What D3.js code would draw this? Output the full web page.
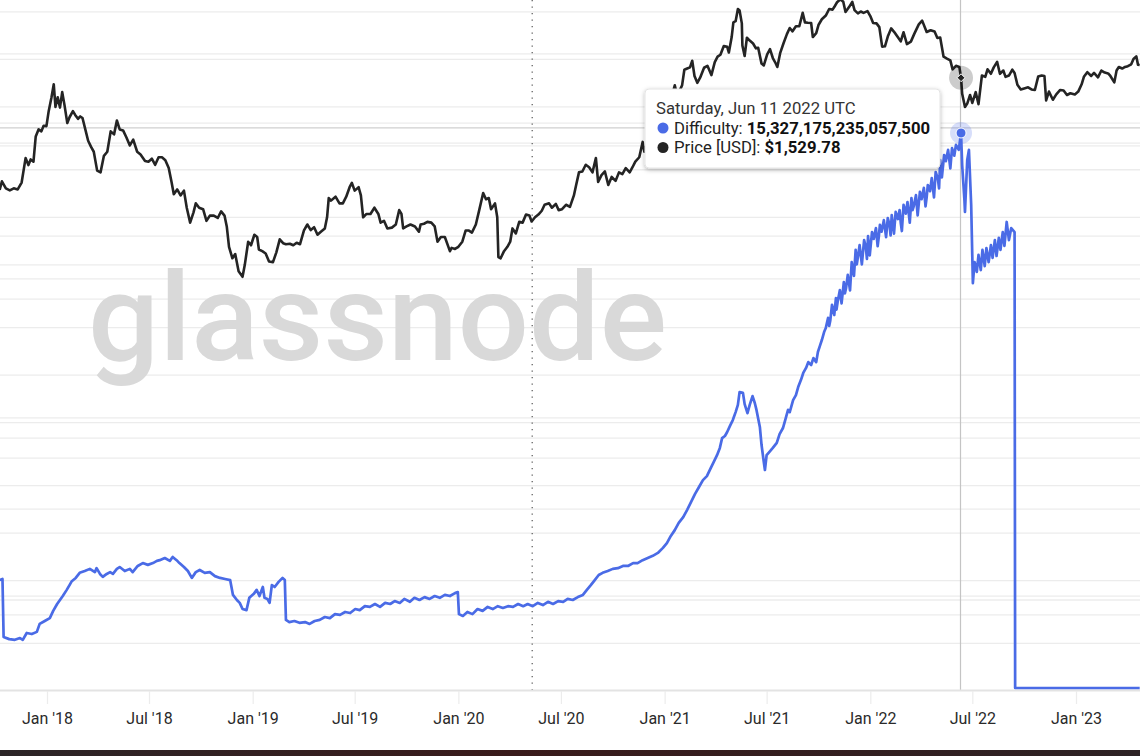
<!DOCTYPE html>
<html><head><meta charset="utf-8">
<script src="https://cdn.jsdelivr.net/npm/d3@7"></script>
<style>
html,body{margin:0;padding:0;background:#fff;overflow:hidden;}
svg{display:block;font-family:Roboto,"Noto Sans",sans-serif;}
</style></head><body>
<svg id="c" width="1140" height="756"></svg>
<script>
// ---------- DATA ----------
const xTickDates = ["2018-01-01","2018-07-01","2019-01-01","2019-07-01","2020-01-01","2020-07-01","2021-01-01","2021-07-01","2022-01-01","2022-07-01","2023-01-01"];
const xTickLabels = ["Jan '18","Jul '18","Jan '19","Jul '19","Jan '20","Jul '20","Jan '21","Jul '21","Jan '22","Jul '22","Jan '23"];
const priceGridTicks = [4000,2000,1000,400,200,100,40,20,10,4,2,1,0.4];
const difficultyGridTicks = [17.51,15.60,15.05,14.97,12.48,11.30,10.74,7.46,6.90,6.35,4.94,2.54,2.43,2.02]; // x1e15

const priceDates = ["2017-10-09","2017-10-13","2017-10-20","2017-10-27","2017-11-03","2017-11-10","2017-11-17","2017-11-24","2017-11-29","2017-12-03","2017-12-08","2017-12-12","2017-12-17","2017-12-22","2017-12-26","2017-12-31",
"2018-01-04","2018-01-09","2018-01-13","2018-01-16","2018-01-20","2018-01-24","2018-01-28","2018-02-01","2018-02-06","2018-02-10","2018-02-16","2018-02-20","2018-02-25","2018-03-01","2018-03-05","2018-03-10","2018-03-15","2018-03-20","2018-03-25","2018-03-31","2018-04-06","2018-04-12","2018-04-18","2018-04-24","2018-04-30","2018-05-05","2018-05-10","2018-05-16","2018-05-22","2018-05-28","2018-06-03","2018-06-10","2018-06-16","2018-06-24","2018-06-30","2018-07-06","2018-07-12","2018-07-18","2018-07-24","2018-07-30","2018-08-05","2018-08-10","2018-08-14","2018-08-20","2018-08-26","2018-09-01","2018-09-06","2018-09-12","2018-09-18","2018-09-22","2018-09-28","2018-10-05","2018-10-11","2018-10-17","2018-10-24","2018-10-31","2018-11-06","2018-11-12","2018-11-16","2018-11-20","2018-11-26","2018-12-01","2018-12-07","2018-12-14","2018-12-18","2018-12-24","2018-12-29",
"2019-01-04","2019-01-09","2019-01-12","2019-01-18","2019-01-24","2019-01-30","2019-02-06","2019-02-12","2019-02-18","2019-02-24","2019-03-01","2019-03-08","2019-03-14","2019-03-20","2019-03-26","2019-04-02","2019-04-08","2019-04-14","2019-04-20","2019-04-26","2019-05-02","2019-05-09","2019-05-13","2019-05-16","2019-05-20","2019-05-28","2019-06-04","2019-06-10","2019-06-16","2019-06-22","2019-06-26","2019-07-01","2019-07-08","2019-07-12","2019-07-16","2019-07-22","2019-07-29","2019-08-05","2019-08-12","2019-08-16","2019-08-22","2019-08-28","2019-09-05","2019-09-12","2019-09-18","2019-09-22","2019-09-25","2019-10-01","2019-10-08","2019-10-16","2019-10-23","2019-10-26","2019-11-01","2019-11-07","2019-11-14","2019-11-20","2019-11-25","2019-12-01","2019-12-08","2019-12-17","2019-12-20","2019-12-26",
"2020-01-01","2020-01-08","2020-01-14","2020-01-19","2020-01-25","2020-02-01","2020-02-07","2020-02-14","2020-02-19","2020-02-24","2020-02-28","2020-03-06","2020-03-10","2020-03-12","2020-03-16","2020-03-22","2020-03-28","2020-04-02","2020-04-06","2020-04-12","2020-04-18","2020-04-24","2020-04-30","2020-05-06","2020-05-10","2020-05-16","2020-05-22","2020-05-28","2020-06-02","2020-06-10","2020-06-15","2020-06-22","2020-06-27","2020-07-03","2020-07-10","2020-07-17","2020-07-24","2020-07-28","2020-08-02","2020-08-08","2020-08-14","2020-08-20","2020-08-26","2020-09-01","2020-09-05","2020-09-11","2020-09-17","2020-09-23","2020-09-29","2020-10-06","2020-10-12","2020-10-18","2020-10-24","2020-10-31","2020-11-05","2020-11-10","2020-11-17","2020-11-23","2020-11-26","2020-12-01","2020-12-08","2020-12-14","2020-12-17","2020-12-22","2020-12-27",
"2021-01-01","2021-01-04","2021-01-10","2021-01-13","2021-01-19","2021-01-22","2021-01-27","2021-02-01","2021-02-05","2021-02-10","2021-02-15","2021-02-19","2021-02-23","2021-02-28","2021-03-05","2021-03-12","2021-03-18","2021-03-25","2021-03-31","2021-04-05","2021-04-10","2021-04-16","2021-04-22","2021-04-25","2021-04-30","2021-05-03","2021-05-07","2021-05-11","2021-05-14","2021-05-18","2021-05-19","2021-05-23","2021-05-27","2021-06-01","2021-06-07","2021-06-12","2021-06-16","2021-06-22","2021-06-26","2021-07-02","2021-07-07","2021-07-12","2021-07-17","2021-07-20","2021-07-25","2021-07-31","2021-08-06","2021-08-11","2021-08-16","2021-08-22","2021-08-28","2021-09-03","2021-09-07","2021-09-12","2021-09-18","2021-09-21","2021-09-27","2021-10-01","2021-10-07","2021-10-14","2021-10-20","2021-10-26","2021-10-29","2021-11-03","2021-11-09","2021-11-14","2021-11-18","2021-11-24","2021-11-30","2021-12-04","2021-12-10","2021-12-15","2021-12-20","2021-12-27",
"2022-01-01","2022-01-06","2022-01-12","2022-01-17","2022-01-22","2022-01-27","2022-02-01","2022-02-07","2022-02-14","2022-02-19","2022-02-24","2022-03-01","2022-03-07","2022-03-14","2022-03-20","2022-03-28","2022-04-03","2022-04-11","2022-04-18","2022-04-25","2022-04-30","2022-05-05","2022-05-11","2022-05-17","2022-05-23","2022-05-27","2022-06-02","2022-06-08","2022-06-11","2022-06-13","2022-06-18","2022-06-22","2022-06-27","2022-07-01","2022-07-07","2022-07-12","2022-07-18","2022-07-24","2022-07-28","2022-08-03","2022-08-08","2022-08-14","2022-08-19","2022-08-25","2022-08-29","2022-09-04","2022-09-10","2022-09-14","2022-09-19","2022-09-25","2022-10-01","2022-10-08","2022-10-14","2022-10-20","2022-10-26","2022-11-01","2022-11-06","2022-11-09","2022-11-14","2022-11-21","2022-11-27","2022-12-04","2022-12-10","2022-12-16","2022-12-22","2022-12-30",
"2023-01-05","2023-01-11","2023-01-15","2023-01-21","2023-01-28","2023-02-02","2023-02-09","2023-02-15","2023-02-21","2023-02-27","2023-03-03","2023-03-10","2023-03-14","2023-03-18","2023-03-24","2023-03-29","2023-04-03","2023-04-09","2023-04-13","2023-04-18","2023-04-21","2023-04-24"];
const priceValues = [298,338,305,296,305,300,332,474,428,465,450,650,720,700,760,756,
940,1150,1390,1000,1150,990,1240,1030,790,860,940,890,840,870,850,720,610,560,520,395,385,490,520,700,670,820,720,710,640,570,620,520,500,455,450,470,430,480,480,460,410,335,280,300,275,295,230,185,215,245,230,225,190,205,205,198,218,205,175,130,110,117,91,84,100,140,133,
155,150,125,122,118,105,104,120,145,137,135,136,133,138,135,165,180,166,173,155,162,170,200,265,255,270,245,245,270,310,330,295,310,275,200,210,210,230,210,185,190,170,172,180,222,210,170,175,180,175,162,180,182,187,185,175,140,150,150,122,128,126,
130,140,165,165,160,180,222,285,260,265,225,245,200,112,110,122,130,140,170,158,187,185,208,205,188,200,208,220,240,245,230,243,222,225,240,233,275,320,385,390,430,415,385,475,335,370,390,320,360,340,385,375,410,385,415,450,480,600,520,590,570,590,640,610,690,
730,1040,1190,1130,1370,1230,1250,1370,1720,1750,1780,1960,1570,1420,1530,1770,1820,1590,1920,2080,2140,2430,2400,2210,2770,3430,3490,4170,4080,3380,2450,2100,2740,2630,2520,2350,2370,1880,1830,2150,2320,2040,1890,1790,2190,2530,2890,3160,3010,3240,3240,3940,3430,3410,3400,2770,2930,3300,3590,3790,4170,4130,4290,4600,4810,4630,3990,4270,4630,4100,3910,4020,3940,4040,
3760,3400,3380,3200,2410,2420,2790,3140,2930,2760,2600,2970,2500,2590,2900,3330,3520,2980,3060,3000,2730,2750,2080,2020,1970,1730,1820,1790,1529.78,1210,1000,1050,1190,1060,1240,1040,1580,1550,1730,1620,1780,1930,1620,1700,1550,1580,1720,1640,1380,1290,1310,1330,1290,1280,1560,1580,1570,1100,1250,1110,1200,1280,1270,1190,1220,1200,
1250,1390,1550,1660,1570,1640,1540,1700,1650,1630,1570,1430,1700,1790,1750,1790,1810,1860,2010,2090,1850,1840];

const difficultyDates = ["2017-10-09","2017-10-14","2017-10-16","2017-10-26","2017-11-05","2017-11-14","2017-11-19","2017-11-26","2017-12-05","2017-12-14","2017-12-19","2017-12-28",
"2018-01-06","2018-01-12","2018-01-19","2018-01-24","2018-01-29","2018-02-05","2018-02-11","2018-02-14","2018-02-21","2018-02-28","2018-03-09","2018-03-18","2018-03-27","2018-03-30","2018-04-05","2018-04-10","2018-04-17","2018-04-23","2018-04-28","2018-05-05","2018-05-10","2018-05-19","2018-05-28","2018-06-02","2018-06-11","2018-06-20","2018-06-29","2018-07-08","2018-07-15","2018-07-20","2018-07-29","2018-08-07","2018-08-12","2018-08-19","2018-08-24","2018-09-01","2018-09-08","2018-09-15","2018-09-22","2018-09-29","2018-10-08","2018-10-17","2018-10-26","2018-11-04","2018-11-13","2018-11-22","2018-11-27","2018-12-04","2018-12-09","2018-12-14","2018-12-21","2018-12-26",
"2019-01-03","2019-01-08","2019-01-13","2019-01-19","2019-01-22","2019-01-27","2019-01-31","2019-02-04","2019-02-09","2019-02-16","2019-02-23","2019-02-27","2019-03-01","2019-03-07","2019-03-16","2019-03-25","2019-04-04","2019-04-12","2019-04-21","2019-04-30","2019-05-09","2019-05-18","2019-05-27","2019-06-05","2019-06-14","2019-06-23","2019-07-02","2019-07-10","2019-07-19","2019-07-28","2019-08-06","2019-08-15","2019-08-24","2019-09-02","2019-09-10","2019-09-19","2019-09-27","2019-10-07","2019-10-15","2019-10-24","2019-11-02","2019-11-11","2019-11-20","2019-11-29","2019-12-08","2019-12-17","2019-12-26","2019-12-31",
"2020-01-02","2020-01-09","2020-01-17","2020-01-26","2020-02-04","2020-02-13","2020-02-22","2020-03-02","2020-03-11","2020-03-20","2020-03-29","2020-04-07","2020-04-16","2020-04-25","2020-05-03","2020-05-12","2020-05-21","2020-05-30","2020-06-08","2020-06-17","2020-06-26","2020-07-05","2020-07-13","2020-07-22","2020-07-31","2020-08-09","2020-08-16","2020-08-23","2020-08-30","2020-09-06","2020-09-13","2020-09-22","2020-10-01","2020-10-10","2020-10-19","2020-10-28","2020-11-06","2020-11-14","2020-11-23","2020-12-02","2020-12-11","2020-12-20","2020-12-29",
"2021-01-05","2021-01-12","2021-01-19","2021-01-26","2021-02-03","2021-02-10","2021-02-17","2021-02-24","2021-03-03","2021-03-10","2021-03-17","2021-03-24","2021-03-29","2021-04-04","2021-04-09","2021-04-13","2021-04-18","2021-04-22","2021-04-27","2021-05-02","2021-05-07","2021-05-11","2021-05-14","2021-05-20","2021-05-23","2021-05-28","2021-06-01","2021-06-06","2021-06-10","2021-06-13","2021-06-19","2021-06-22","2021-06-26","2021-06-28","2021-07-01","2021-07-06","2021-07-12","2021-07-19","2021-07-24","2021-07-30","2021-08-03","2021-08-08","2021-08-11","2021-08-17","2021-08-22","2021-08-26","2021-08-31","2021-09-04","2021-09-09","2021-09-13","2021-09-18","2021-09-22","2021-09-27","2021-09-30","2021-10-04","2021-10-07","2021-10-11","2021-10-14","2021-10-18","2021-10-20","2021-10-22","2021-10-25","2021-10-29","2021-11-01","2021-11-02","2021-11-04","2021-11-08","2021-11-11","2021-11-15","2021-11-17","2021-11-19","2021-11-22","2021-11-26","2021-11-29","2021-12-03","2021-12-06","2021-12-08","2021-12-10","2021-12-13","2021-12-17","2021-12-21","2021-12-24","2021-12-26","2021-12-28","2021-12-31",
"2022-01-04","2022-01-07","2022-01-11","2022-01-14","2022-01-16","2022-01-18","2022-01-21","2022-01-25","2022-01-29","2022-02-01","2022-02-04","2022-02-06","2022-02-08","2022-02-12","2022-02-15","2022-02-19","2022-02-22","2022-02-24","2022-02-26","2022-03-01","2022-03-05","2022-03-08","2022-03-12","2022-03-15","2022-03-17","2022-03-19","2022-03-23","2022-03-26","2022-03-30","2022-04-02","2022-04-06","2022-04-09","2022-04-11","2022-04-13","2022-04-17","2022-04-20","2022-04-24","2022-04-27","2022-05-01","2022-05-03","2022-05-05","2022-05-08","2022-05-12","2022-05-15","2022-05-19","2022-05-23","2022-05-26","2022-05-30","2022-06-02","2022-06-07","2022-06-11","2022-06-13","2022-06-17","2022-06-18","2022-06-22","2022-06-25","2022-06-29","2022-07-02","2022-07-05","2022-07-09","2022-07-12","2022-07-16","2022-07-19","2022-07-23","2022-07-26","2022-07-30","2022-08-03","2022-08-06","2022-08-10","2022-08-13","2022-08-17","2022-08-20","2022-08-24","2022-08-27","2022-08-31","2022-09-04","2022-09-08","2022-09-14","2022-09-15","2023-04-24"];
const difficultyValues = [2.98,3.01,1.41,1.35,1.33,1.38,1.33,1.52,1.49,1.55,1.77,1.85,
1.93,2.13,2.32,2.43,2.54,2.71,2.87,2.95,3.04,3.18,3.23,3.29,3.20,3.31,3.15,3.07,3.15,3.20,3.15,3.29,3.34,3.23,3.29,3.20,3.37,3.45,3.40,3.45,3.51,3.53,3.59,3.51,3.62,3.53,3.45,3.34,3.23,3.04,3.20,3.26,3.18,3.20,3.09,3.04,3.01,2.98,2.57,2.43,2.35,2.18,2.15,2.49,
2.60,2.71,2.54,2.79,2.49,2.46,2.35,2.84,2.79,2.93,3.04,2.98,1.88,1.82,1.85,1.80,1.82,1.77,1.85,1.88,1.96,1.93,2.04,2.02,2.10,2.07,2.18,2.15,2.26,2.24,2.32,2.24,2.35,2.32,2.40,2.35,2.46,2.38,2.49,2.43,2.51,2.46,2.54,2.49,2.57,2.54,2.62,2.65,
2.04,1.99,2.10,2.04,2.18,2.13,2.24,2.18,2.26,2.21,2.26,2.24,2.32,2.26,2.32,2.26,2.35,2.29,2.38,2.32,2.40,2.38,2.46,2.43,2.51,2.57,2.71,2.84,2.98,3.12,3.18,3.23,3.29,3.31,3.37,3.37,3.45,3.45,3.53,3.59,3.65,3.73,3.87,
4.00,4.20,4.36,4.56,4.72,4.92,5.14,5.36,5.55,5.74,5.85,6.08,6.24,6.43,6.63,6.90,6.96,7.07,7.24,7.40,7.62,7.82,8.17,8.15,7.84,7.59,7.82,8.06,7.87,7.68,7.21,6.71,6.24,6.02,6.43,6.52,6.63,6.77,7.01,7.18,7.40,7.68,7.62,7.95,8.09,8.31,8.51,8.70,8.84,9.00,8.92,9.11,9.00,9.28,9.47,9.61,9.83,9.94,10.22,10.00,10.15,10.58,10.30,10.77,10.45,10.66,10.99,10.62,11.21,10.90,11.05,11.41,10.98,11.76,11.38,12.10,11.70,11.90,12.23,11.70,12.37,12.18,11.85,12.48,11.95,
12.59,12.40,12.70,12.20,12.45,12.79,12.60,12.92,12.45,12.98,12.80,12.50,13.06,12.55,13.15,12.95,13.20,12.85,12.62,13.34,13.10,13.42,12.85,13.53,13.20,13.30,13.61,13.05,13.70,13.50,13.81,13.30,13.55,13.89,13.72,14.08,13.55,14.25,14.05,13.80,14.58,14.10,14.72,14.55,14.86,14.35,14.91,14.70,15.00,14.86,15.327175235,14.44,13.48,13.15,14.58,14.86,13.34,11.18,11.76,11.49,11.96,11.54,12.10,11.65,12.15,11.76,12.23,11.88,12.37,11.93,12.43,12.10,12.59,12.21,12.87,12.37,12.70,12.59,0,0];

const halvingDate = "2020-05-11";
const hoverDate = "2022-06-11";
const hoverDifficulty = 15327175235057500;
const hoverPrice = 1529.78;
const seriesNames = ["Difficulty", "Price [USD]"];
const watermark = "glassnode";

// ---------- CHART ----------
const W = 1140, H = 756;
const parse = d3.utcParse("%Y-%m-%d");
const svg = d3.select("#c");
const x = d3.scaleUtc().domain([parse("2018-01-01"), parse("2023-01-01")]).range([47, 1076]);
const yP = d3.scaleLog().domain([0.2, 10000]).range([691, -51]);
const yD = d3.scaleLinear().domain([0, 19]).range([688, 0]);
const axisY = 690.5;
const blue = "#4a6be6", black = "#242424";

const defs = svg.append("defs");
const f = defs.append("filter").attr("id","sh").attr("x","-10%").attr("y","-20%").attr("width","120%").attr("height","150%");
f.append("feDropShadow").attr("dx",0).attr("dy",1.5).attr("stdDeviation",2).attr("flood-color","#000").attr("flood-opacity",0.28);

svg.append("rect").attr("width",W).attr("height",H).attr("fill","#fff");

// gridlines
const grid = svg.append("g").attr("stroke","#ececec").attr("stroke-width",1.3);
grid.selectAll("line.p").data(priceGridTicks).join("line").attr("class","p")
  .attr("x1",0).attr("x2",W).attr("y1",d=>yP(d)).attr("y2",d=>yP(d));
grid.selectAll("line.d").data(difficultyGridTicks).join("line").attr("class","d")
  .attr("x1",0).attr("x2",W).attr("y1",d=>yD(d)).attr("y2",d=>yD(d));

// watermark
svg.append("text").attr("x",88).attr("y",360).attr("font-size",122).attr("font-weight",500)
  .attr("font-family","Roboto, 'Noto Sans', sans-serif")
  .attr("fill","#d9d9d9").attr("textLength",579).attr("lengthAdjust","spacingAndGlyphs")
  .text(watermark);

// halving dotted line
svg.append("line").attr("x1",x(parse(halvingDate))).attr("x2",x(parse(halvingDate)))
  .attr("y1",0).attr("y2",axisY).attr("stroke","#555").attr("stroke-width",1.2).attr("stroke-dasharray","1.2,5.3");

// crosshair
const hx = Math.round(x(parse(hoverDate))) - 0.5;
svg.append("line").attr("x1",hx).attr("x2",hx).attr("y1",0).attr("y2",axisY).attr("stroke","#c4c4c4").attr("stroke-width",1.2);
svg.append("line").attr("x1",0).attr("x2",W).attr("y1",yD(15.47)).attr("y2",yD(15.47)).attr("stroke","#cfcfcf").attr("stroke-width",1.3);

// axis
svg.append("line").attr("x1",0).attr("x2",W).attr("y1",axisY).attr("y2",axisY).attr("stroke","#e3e3e3").attr("stroke-width",2);
const ax = d3.axisBottom(x).tickValues(xTickDates.map(parse)).tickFormat((d,i)=>xTickLabels[i]).tickSize(13).tickSizeOuter(0).tickPadding(9);
const axg = svg.append("g").attr("transform",`translate(0,${axisY+0.5})`).call(ax);
axg.select(".domain").remove();
axg.selectAll(".tick line").attr("stroke","#ececec").attr("stroke-width",1.2);
axg.selectAll(".tick text").attr("fill","#2a2a2a").attr("font-size",16).attr("font-family","Roboto, 'Noto Sans', sans-serif");

// series
const diffData = difficultyDates.map((d,i)=>({date:parse(d), v:difficultyValues[i]}));
const priceData = priceDates.map((d,i)=>({date:parse(d), v:priceValues[i]}));
svg.append("path").datum(diffData).attr("fill","none").attr("stroke",blue).attr("stroke-width",2.7)
  .attr("stroke-linejoin","round")
  .attr("d", d3.line().x(d=>x(d.date)).y(d=>yD(d.v)));
svg.append("path").datum(priceData).attr("fill","none").attr("stroke",black).attr("stroke-width",2.6)
  .attr("stroke-linejoin","round")
  .attr("d", d3.line().x(d=>x(d.date)).y(d=>yP(d.v)));

// hover markers
const hd = parse(hoverDate);
const px = x(hd);
svg.append("circle").attr("cx",px).attr("cy",yD(hoverDifficulty/1e15)).attr("r",11).attr("fill",blue).attr("fill-opacity",0.22);
svg.append("circle").attr("cx",px).attr("cy",yD(hoverDifficulty/1e15)).attr("r",5).attr("fill",blue).attr("stroke","#fff").attr("stroke-width",1);
svg.append("circle").attr("cx",px).attr("cy",yP(hoverPrice)).attr("r",12).attr("fill","#000").attr("fill-opacity",0.2);
svg.append("path").attr("transform",`translate(${px},${yP(hoverPrice)})`).attr("d",d3.symbol(d3.symbolDiamond2,40)()).attr("fill",black).attr("stroke","#fff").attr("stroke-width",1);

// tooltip
const tt = svg.append("g").attr("transform","translate(645,89)");
tt.append("rect").attr("width",295).attr("height",79).attr("rx",4).attr("fill","#fff").attr("stroke","#e4e4e4").attr("filter","url(#sh)");
tt.append("text").attr("x",11).attr("y",25).attr("font-size",16.7).attr("fill","#333")
  .text(d3.utcFormat("%A, %b %d %Y UTC")(hd));
const rows = [
  {c:blue, name:seriesNames[0], val:d3.format(",.0f")(hoverDifficulty)},
  {c:black, name:seriesNames[1], val:d3.format("$,.2f")(hoverPrice)}
];
rows.forEach((r,i)=>{
  const yy = 39 + i*19.5;
  tt.append("circle").attr("cx",18).attr("cy",yy).attr("r",5.5).attr("fill",r.c);
  const t = tt.append("text").attr("x",29).attr("y",yy+5.8).attr("font-size",16.7).attr("fill","#222");
  t.append("tspan").text(r.name + ": ");
  t.append("tspan").attr("font-weight",700).attr("fill","#111").text(r.val);
});

// bottom dark bar
const bg = defs.append("linearGradient").attr("id","bar");
bg.append("stop").attr("offset","0%").attr("stop-color","#2c2527");
bg.append("stop").attr("offset","45%").attr("stop-color","#3a1b1b");
bg.append("stop").attr("offset","100%").attr("stop-color","#2d2224");
svg.append("rect").attr("x",0).attr("y",750).attr("width",W).attr("height",6).attr("fill","url(#bar)");
</script>
</body></html>
